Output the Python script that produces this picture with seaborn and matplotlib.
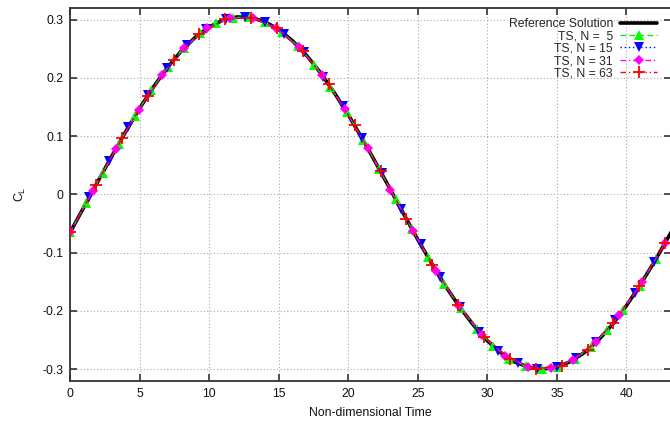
import matplotlib
matplotlib.use("Agg")
import matplotlib.pyplot as plt
import seaborn as sns

# ---------------- data ----------------
ref_t = [0, 1, 2, 3, 4, 5, 6, 7, 8, 9, 10, 11, 12, 13, 14, 15, 16, 17, 18, 19, 20,
         21, 22, 23, 24, 25, 26, 27, 28, 29, 30, 31, 32, 33, 34, 35, 36, 37, 38, 39,
         40, 41, 42, 43, 44]
ref_cl = [-0.0655, -0.0221, 0.0219, 0.0654, 0.1076, 0.1476, 0.1845, 0.2177, 0.2462,
          0.2696, 0.2874, 0.2991, 0.3046, 0.3037, 0.2965, 0.2832, 0.2635, 0.2387,
          0.2089, 0.1745, 0.1367, 0.0959, 0.0533, 0.0096, -0.0343, -0.0776, -0.1189,
          -0.1578, -0.1932, -0.2246, -0.2515, -0.2724, -0.2881, -0.2970, -0.3000,
          -0.2966, -0.2869, -0.2713, -0.2498, -0.2230, -0.1910, -0.1550, -0.1158,
          -0.0739, -0.0309]

ts5_t = [0.0, 1.17, 2.34, 3.51, 4.68, 5.85, 7.02, 8.19, 9.36, 10.53, 11.70, 12.87,
         14.04, 15.21, 16.38, 17.55, 18.72, 19.89, 21.06, 22.23, 23.40, 24.57, 25.74,
         26.91, 28.08, 29.25, 30.42, 31.59, 32.76, 33.93, 35.10, 36.27, 37.44, 38.61,
         39.78, 40.95, 42.12]
ts5_cl = [-0.0655, -0.0147, 0.0367, 0.0871, 0.1351, 0.1793, 0.2183, 0.2511, 0.2767,
          0.2944, 0.3036, 0.3041, 0.2960, 0.2794, 0.2548, 0.2229, 0.1846, 0.1411,
          0.0935, 0.0434, -0.0080, -0.0591, -0.1083, -0.1544, -0.1960, -0.2317,
          -0.2607, -0.2822, -0.2954, -0.3000, -0.2959, -0.2831, -0.2621, -0.2335,
          -0.1980, -0.1569, -0.1109]

ts15_t = [0.0, 1.4, 2.8, 4.2, 5.6, 7.0, 8.4, 9.8, 11.2, 12.6, 14.0, 15.4, 16.8, 18.2,
          19.6, 21.0, 22.4, 23.8, 25.2, 26.6, 28.0, 29.4, 30.8, 32.2, 33.6, 35.0,
          36.4, 37.8, 39.2, 40.6, 42.0]
ts15_cl = [-0.0655, -0.0045, 0.0567, 0.1158, 0.1702, 0.2177, 0.2562, 0.2843, 0.3007,
           0.3048, 0.2965, 0.2759, 0.2441, 0.2023, 0.1522, 0.0960, 0.0359, -0.0256,
           -0.0860, -0.1426, -0.1933, -0.2359, -0.2686, -0.2901, -0.2996, -0.2966,
           -0.2812, -0.2541, -0.2164, -0.1696, -0.1157]

ts31_t = [0.0, 1.645, 3.29, 4.935, 6.58, 8.225, 9.87, 11.515, 13.16, 14.805, 16.45,
          18.095, 19.74, 21.385, 23.03, 24.675, 26.32, 27.965, 29.61, 31.255, 32.9,
          34.545, 36.19, 37.835, 39.48, 41.125, 42.77]
ts31_cl = [-0.0655, 0.0062, 0.0778, 0.1451, 0.2043, 0.2519, 0.2853, 0.3027, 0.3030,
           0.2861, 0.2531, 0.2058, 0.1469, 0.0797, 0.0082, -0.0636, -0.1317, -0.1921,
           -0.2415, -0.2769, -0.2964, -0.2989, -0.2842, -0.2532, -0.2077, -0.1501,
           -0.0839]

ts63_t = [0.0, 1.86, 3.72, 5.58, 7.44, 9.3, 11.16, 13.02, 14.88, 16.74, 18.6, 20.46,
          22.32, 24.18, 26.04, 27.9, 29.76, 31.62, 33.48, 35.34, 37.2, 39.06, 40.92,
          42.78]
ts63_cl = [-0.0655, 0.0157, 0.0960, 0.1695, 0.2308, 0.2755, 0.3004, 0.3036, 0.2849,
           0.2457, 0.1888, 0.1183, 0.0394, -0.0422, -0.1205, -0.1900, -0.2452,
           -0.2826, -0.2993, -0.2939, -0.2671, -0.2206, -0.1578, -0.0835]

series_labels = ["Reference Solution", "TS, N =  5", "TS, N = 15", "TS, N = 31", "TS, N = 63"]
x_ticks = [0, 5, 10, 15, 20, 25, 30, 35, 40]
x_tick_labels = ["0", "5", "10", "15", "20", "25", "30", "35", "40"]
y_ticks = [-0.3, -0.2, -0.1, 0.0, 0.1, 0.2, 0.3]
y_tick_labels = ["-0.3", "-0.2", "-0.1", "0", "0.1", "0.2", "0.3"]
x_label = "Non-dimensional Time"
y_label = "C$_L$"

# ---------------- style ----------------
sns.set_theme(style="ticks")
plt.rcParams['font.family'] = ['Liberation Sans', 'DejaVu Sans']
plt.rcParams['mathtext.default'] = 'regular'
FS = 8.8

fig = plt.figure(figsize=(6.7, 4.23), dpi=100)
ax = fig.add_axes([70 / 670, 42.3 / 423, 601 / 670, 372.7 / 423])

sns.lineplot(x=ref_t, y=ref_cl, ax=ax, color="black", linewidth=2.6,
             label=series_labels[0], sort=False, zorder=2)
sns.lineplot(x=ts5_t, y=ts5_cl, ax=ax, color="#00ee00", linewidth=1.0,
             linestyle=(0, (4, 2.5)), marker="^", markersize=6.5,
             markerfacecolor="#00ff00", markeredgecolor="#00ff00", markeredgewidth=0,
             label=series_labels[1], sort=False, zorder=3)
sns.lineplot(x=ts15_t, y=ts15_cl, ax=ax, color="#0000ff", linewidth=1.0,
             linestyle=(0, (1, 2)), marker="v", markersize=6.5,
             markerfacecolor="#0000ff", markeredgecolor="#0000ff", markeredgewidth=0,
             label=series_labels[2], sort=False, zorder=4)
sns.lineplot(x=ts31_t, y=ts31_cl, ax=ax, color="#ff00ff", linewidth=1.0,
             linestyle=(0, (4, 2, 1, 2)), marker="D", markersize=5.5,
             markerfacecolor="#ff00ff", markeredgecolor="#ff00ff", markeredgewidth=0,
             label=series_labels[3], sort=False, zorder=5)
sns.lineplot(x=ts63_t, y=ts63_cl, ax=ax, color="#ff0000", linewidth=1.0,
             linestyle=(0, (4, 2, 1, 2, 1, 2)), marker="+", markersize=8,
             markeredgecolor="#ff0000", markeredgewidth=1.3,
             label=series_labels[4], sort=False, zorder=6)

ax.set_xlim(0, 43.2)
ax.set_ylim(-0.32, 0.32)
ax.set_xticks(x_ticks)
ax.set_xticklabels(x_tick_labels)
ax.set_yticks(y_ticks)
ax.set_yticklabels(y_tick_labels)
ax.tick_params(direction="in", length=5, width=1.2, top=True, right=True,
               labelsize=FS, pad=5, color="#333333", labelcolor="#111111")
ax.grid(True, linestyle=(0, (1, 2)), color="#aaaaaa", linewidth=0.8)
for s in ax.spines.values():
    s.set_visible(True)
    s.set_color("#333333")
    s.set_linewidth(1.3)

ax.set_xlabel(x_label, fontsize=FS, labelpad=5, color="#111111")
ax.set_ylabel(y_label, fontsize=FS, labelpad=10, color="#111111")

handles, labels = ax.get_legend_handles_labels()
ax.legend(handles, labels, loc="upper right", bbox_to_anchor=(657 / 670, 405 / 423),
          bbox_transform=fig.transFigure, frameon=False, markerfirst=False,
          fontsize=FS, handlelength=3.0, handletextpad=0.6, labelspacing=0.03,
          borderpad=0, borderaxespad=0, numpoints=1)

fig.savefig("out.png", dpi=100)
